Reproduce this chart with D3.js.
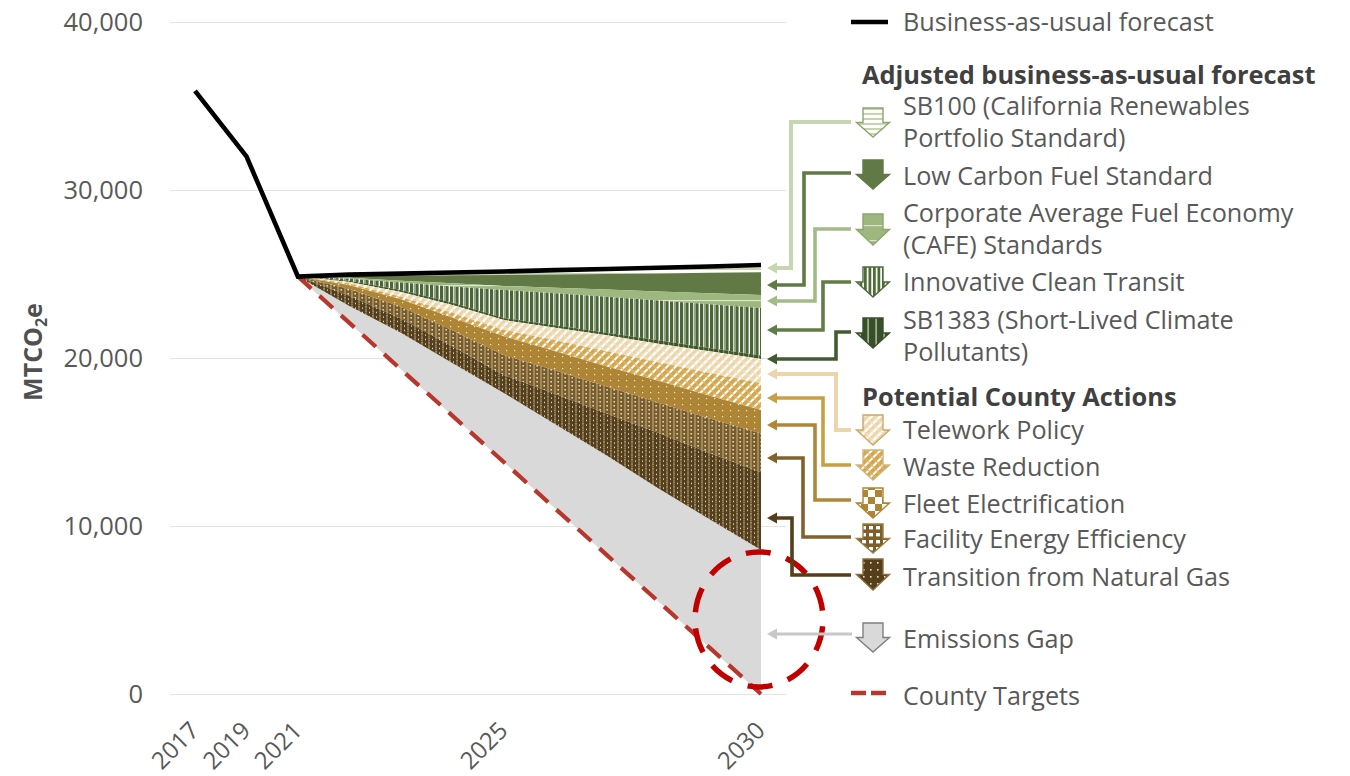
<!DOCTYPE html>
<html><head><meta charset="utf-8">
<script src="https://cdnjs.cloudflare.com/ajax/libs/d3/7.8.5/d3.min.js"></script>
<style>
html,body{margin:0;padding:0;background:#fff}
svg{display:block}
text{font-family:"Open Sans",sans-serif}
</style></head><body>
<svg id="c" width="1350" height="776"></svg>
<script>
// ---------- data ----------
const categories = ["2017","2019","2021","2022","2023","2024","2025","2026","2027","2028","2029","2030"];
const xTickLabels = ["2017","2019","2021","2025","2030"];
const yTicks = [0,10000,20000,30000,40000];
const wedgeYears = categories.slice(2);
const bau        = [35900,32000,24850,24960,25020,25090,25150,25230,25300,25370,25450,25535];
const sb100      = [24850,24880,24900,24920,24940,24970,25000,25030,25070,25100];
const lcfs       = [24850,24780,24600,24450,24290,24180,24070,23960,23850,23750];
const cafe       = [24850,24720,24500,24250,24050,23850,23650,23420,23200,22980];
const transit    = [24850,24600,24050,23300,22380,21950,21500,21050,20600,20150];
const sb1383     = [24850,24530,23930,23150,22260,21800,21350,20850,20400,19940];
const telework   = [24850,24430,23650,22700,21670,21050,20400,19750,19100,18500];
const waste      = [24850,24330,23500,22400,21300,20400,19500,18650,17750,16900];
const fleet      = [24850,24100,23050,21650,20180,19250,18300,17350,16400,15500];
const facility   = [24850,23700,22350,20700,18990,17850,16700,15550,14350,13200];
const naturalGas = [24850,23100,21500,19700,17920,16050,14200,12250,10400,8570];
const targets    = [24850,22090,19330,16570,13810,11040,8280,5520,2760,0];
const seriesBottoms = [sb100,lcfs,cafe,transit,sb1383,telework,waste,fleet,facility,naturalGas];
const headingBAU = "Business-as-usual forecast";
const headingAdj = "Adjusted business-as-usual forecast";
const headingPot = "Potential County Actions";
const gapLabel = "Emissions Gap";
const targetLabel = "County Targets";

// ---------- scales ----------
const svg = d3.select("#c");
const x = d3.scalePoint().domain(categories).range([195,761]);
const y = d3.scaleLinear().domain([0,40000]).range([694,22]);

// ---------- patterns ----------
const defs = svg.append("defs");
function pat(id,w,h,bg,shapes,rot){
  const p = defs.append("pattern").attr("id",id).attr("patternUnits","userSpaceOnUse").attr("width",w).attr("height",h);
  if(rot) p.attr("patternTransform",`rotate(${rot})`);
  p.append("rect").attr("width",w).attr("height",h).attr("fill",bg);
  shapes.forEach(s=>p.append("rect").attr("x",s[0]).attr("y",s[1]).attr("width",s[2]).attr("height",s[3]).attr("fill",s[4]));
}
pat("pSB100",4,5,"#fff",[[0,3,4,2,"#c5d5ae"]]);
pat("pLCFS",4,4,"#617a45",[]);
pat("pCAFE",4,15,"#9db77e",[[0,0,4,1.2,"#dbe5cc"]]);
pat("pTransit",10,4,"#fff",[[0,0,3.2,4,"#4a6636"],[4,0,1,4,"#94a482"],[5.4,0,3.2,4,"#4a6636"]]);
pat("pSB1383",10,4,"#3c5529",[[3.2,0,1,4,"#8d9c7c"],[8.2,0,1,4,"#a9b79a"]]);
pat("pTele",6,6,"#fff",[[0,0,3.6,6,"#ebd5a9"],[0,0,6,1,"#f1e1c2"]],45);
pat("pWaste",6,6,"#fff",[[0,0,3.9,6,"#d3a64e"],[0,0,6,1.1,"#dcb76c"]],45);
pat("pFleet",8,6,"#ad8534",[[2,2,1.2,1.2,"#f3e8d0"]]);
pat("pFacility",7,4,"#7a5c28",[[1.5,0,1,4,"#c2b393"],[4.5,1,1.3,1.6,"#f6f0e2"]]);
pat("pGas",7,4.5,"#553f1a",[[1.5,0,1,1.6,"#e0d6bf"],[1.5,2.4,1,1.5,"#cfc4a8"],[5,1.4,1,1.3,"#f2ead8"]]);
// larger renderings used only by the legend glyphs
pat("lgTransit",4.5,4,"#fff",[[0,0,2.8,4,"#4f6b3a"]]);
pat("lgSB1383",8,4,"#37502a",[[3.5,0,1.2,4,"#cdd6c3"]]);
pat("lgFleet",14,14,"#ad8534",[[0,0,7,7,"#fff"],[7,7,7,7,"#fff"]]);
pat("lgFacility",7,7,"#7d5f2c",[[1,1,4,3.4,"#fff"]]);
pat("lgGas",7,7,"#553f1a",[[2,2,1.6,1.6,"#e9dfc5"]]);

// ---------- axes and grid ----------
const gy = svg.append("g").attr("transform","translate(170,0)")
  .call(d3.axisLeft(y).tickValues(yTicks).tickFormat(d3.format(",")).tickSize(-616).tickPadding(27));
gy.select(".domain").remove();
gy.selectAll(".tick line").attr("stroke","#e4e4e4").attr("stroke-width",1.2);
gy.selectAll(".tick text").attr("fill","#595959").attr("font-size",25.5).style("font-family",'"Open Sans",sans-serif');

const gx = svg.append("g").attr("transform","translate(0,694)")
  .call(d3.axisBottom(x).tickValues(xTickLabels).tickSize(0));
gx.select(".domain").remove();
gx.selectAll(".tick text").attr("fill","#595959").attr("font-size",24).style("font-family",'"Open Sans",sans-serif')
  .attr("x",0).attr("y",0).attr("dy",0).attr("text-anchor","end")
  .attr("transform","translate(5,38) rotate(-45)");

svg.append("text").attr("transform",`translate(42,${352}) rotate(-90)`).attr("text-anchor","middle")
  .attr("font-size",25).attr("font-weight",700).attr("fill","#505050")
  .call(t=>{t.append("tspan").text("MTCO");t.append("tspan").attr("dy",5).attr("font-size",16).text("2");t.append("tspan").attr("dy",-5).text("e");});

// ---------- stacked wedges ----------
const fills = ["pSB100","pLCFS","pCAFE","pTransit","pSB1383","pTele","pWaste","pFleet","pFacility","pGas"];
const bauWedge = bau.slice(2);
const area = d3.area().x((d,i)=>x(wedgeYears[i])).y0(d=>y(d[0])).y1(d=>y(d[1]));
svg.append("path").attr("d",area(wedgeYears.map((_,i)=>[targets[i],naturalGas[i]]))).attr("fill","#d9d9d9");
seriesBottoms.forEach((s,k)=>{
  const top = k===0 ? bauWedge : seriesBottoms[k-1];
  svg.append("path").attr("d",area(wedgeYears.map((_,i)=>[s[i],top[i]]))).attr("fill",`url(#${fills[k]})`);
});
const line = d3.line().x(d=>x(d[0])).y(d=>y(d[1]));
svg.append("path").attr("d",line(wedgeYears.map((c,i)=>[c,targets[i]]))).attr("fill","none")
  .attr("stroke","#b8372c").attr("stroke-width",4.2).attr("stroke-dasharray","18 11").attr("stroke-linecap","butt");
svg.append("path").attr("d",line(categories.map((c,i)=>[c,bau[i]]))).attr("fill","none")
  .attr("stroke","#000").attr("stroke-width",4.6);

// highlight ring around the 2030 gap
svg.append("ellipse").attr("cx",x("2030")-2).attr("cy",y(4440)).attr("rx",64).attr("ry",67.5)
  .attr("fill","none").attr("stroke","#c00000").attr("stroke-width",5.5).attr("stroke-dasharray","25 16.3").attr("stroke-dashoffset",34.3);

// ---------- legend ----------
const textRows = [
 [headingBAU,903,22.5,false],[headingAdj,862,75,true],
 ["SB100 (California Renewables",903,106.5,false],["Portfolio Standard)",903,138.5,false],
 ["Low Carbon Fuel Standard",903,176.5,false],
 ["Corporate Average Fuel Economy",903,213.5,false],["(CAFE) Standards",903,245.5,false],
 ["Innovative Clean Transit",903,282.5,false],
 ["SB1383 (Short-Lived Climate",903,320.5,false],["Pollutants)",903,352.5,false],
 [headingPot,862,397.5,true],
 ["Telework Policy",903,430.5,false],["Waste Reduction",903,467.5,false],["Fleet Electrification",903,504.5,false],
 ["Facility Energy Efficiency",903,539.5,false],["Transition from Natural Gas",903,577.5,false],
 [gapLabel,903,639.5,false],[targetLabel,903,696.5,false]];
svg.append("g").selectAll("text").data(textRows).join("text")
  .attr("x",d=>d[1]).attr("y",d=>d[2]).attr("dy","0.35em").text(d=>d[0])
  .attr("font-size",d=>d[3]?25.4:25.2).attr("font-weight",d=>d[3]?700:400).attr("fill",d=>d[3]?"#404040":"#595959");

const rows = [
 {top:108,bot:137,ly:122,rx:791,ay:268,c:"#c6d6b0",f:"pSB100",o:"#8aa66c",w:4},
 {top:160,bot:189,ly:173,rx:804,ay:285,c:"#617a45",f:"pLCFS",o:"#617a45",w:3.6},
 {top:214,bot:245,ly:229,rx:815,ay:301,c:"#a3bb86",f:"pCAFE",o:"#8aa66c",w:3.6},
 {top:267,bot:297,ly:282,rx:823,ay:330,c:"#627c48",f:"lgTransit",o:"#4f6b3a",w:3.6},
 {top:318,bot:348,ly:332,rx:836,ay:359,c:"#435b30",f:"lgSB1383",o:"#37502a",w:3.6},
 {top:415,bot:445,ly:430,rx:836,ay:374,c:"#ebd6ac",f:"pTele",o:"#c9a968",w:4},
 {top:450,bot:480,ly:465,rx:823,ay:398,c:"#c99f46",f:"pWaste",o:"#d0b67e",w:3.6},
 {top:488,bot:518,ly:500,rx:815,ay:425,c:"#ae8838",f:"lgFleet",o:"#ad8534",w:3.6},
 {top:524,bot:553,ly:537,rx:803,ay:458,c:"#80622d",f:"lgFacility",o:"#9c7c3f",w:3.6},
 {top:559,bot:590,ly:575,rx:792,ay:518,c:"#553f1a",f:"lgGas",o:"#8a6e36",w:3.6}
];
const g = svg.append("g");
rows.forEach(r=>{
  g.append("path").attr("d",d3.line()([[851,r.ly],[r.rx,r.ly],[r.rx,r.ay],[775,r.ay]]))
    .attr("fill","none").attr("stroke",r.c).attr("stroke-width",r.w);
  arrowHead(r.ay,r.c);
  glyph(r.top,r.bot,`url(#${r.f})`,r.o);
});
g.append("path").attr("d",d3.line()([[852,634],[775,634]])).attr("fill","none").attr("stroke","#c8c8c8").attr("stroke-width",3);
arrowHead(634,"#c8c8c8");
glyph(623,652,"#d9d9d9","#7f7f7f");
function arrowHead(ay,c){
  g.append("path").attr("d",d3.line()([[767,ay],[777,ay-5.5],[777,ay+5.5]])+"Z").attr("fill",c);
}
function glyph(top,bot,fill,stroke){
  const cx=873, h=bot-top, hy=top+h*0.5;
  const p=[[cx-10,top],[cx+10,top],[cx+10,hy],[cx+16.5,hy],[cx,bot],[cx-16.5,hy],[cx-10,hy]];
  g.append("path").attr("d",d3.line()(p)+"Z").attr("fill",fill).attr("stroke",stroke).attr("stroke-width",1.4);
}
g.append("path").attr("d","M851,22H888").attr("stroke","#000").attr("stroke-width",4.5);
g.append("path").attr("d","M851,693H887").attr("stroke","#b8372c").attr("stroke-width",4.5).attr("stroke-dasharray","15 5");
</script>
</body></html>
